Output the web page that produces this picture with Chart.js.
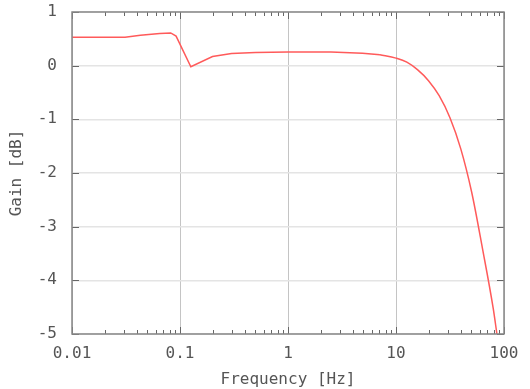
<!DOCTYPE html>
<html>
<head>
<meta charset="utf-8">
<script src="https://cdn.jsdelivr.net/npm/chart.js@4/dist/chart.umd.min.js"></script>
<style>
  html, body { margin: 0; padding: 0; background: #ffffff; }
  #wrap { width: 530px; height: 389px; }
</style>
</head>
<body>
<div id="wrap"><canvas id="c" width="530" height="389"></canvas></div>
<script>
// Data
const frequencyHz = [0.01, 0.031, 0.043, 0.065, 0.082, 0.092, 0.126, 0.2, 0.3, 0.5, 1, 2.5, 4.9, 7.1, 10, 12.6, 15.8, 20, 25.1, 31.6, 39.8, 50.1, 63.1, 79.4, 86];
const gainDb      = [0.53, 0.53, 0.565, 0.6, 0.61, 0.55, -0.02, 0.17, 0.225, 0.245, 0.255, 0.255, 0.23, 0.205, 0.14, 0.065, -0.075, -0.28, -0.56, -0.97, -1.55, -2.35, -3.4, -4.52, -5.0];
const decadeTicks = [0.01, 0.1, 1, 10, 100];
const decadeLabels = ['0.01', '0.1', '1', '10', '100'];
const gainTicks = [-5, -4, -3, -2, -1, 0, 1];
const rollOffStartHz = 7.1; // the roll-off part is drawn smoothed

const FONT = "'DejaVu Sans Mono', 'Liberation Mono', monospace";
const TEXT = '#555555';
const LINE = '#ff5a5a';

const logTicks = [];
decadeTicks.forEach((d, i) => {
  if (i === decadeTicks.length - 1) { logTicks.push(d); return; }
  for (let k = 1; k <= 9; k++) logTicks.push(+(k * d).toPrecision(3));
});

const points = frequencyHz.map((f, i) => ({ x: f, y: gainDb[i] }));
const flatPart = points.filter(p => p.x <= rollOffStartHz);
const rollOffPart = points.filter(p => p.x >= rollOffStartHz);

const framePlugin = {
  id: 'frame',
  afterDraw(chart) {
    const { ctx, chartArea: a, scales } = chart;
    const xs = scales.x, ys = scales.y;
    ctx.save();
    ctx.strokeStyle = '#666666';
    ctx.lineWidth = 1;
    logTicks.forEach(v => {
      const px = Math.round(xs.getPixelForValue(v)) + 0.5;
      const major = decadeTicks.includes(v);
      const len = major ? 7 : 4;
      ctx.beginPath();
      ctx.moveTo(px, a.bottom); ctx.lineTo(px, a.bottom - len);
      ctx.moveTo(px, a.top); ctx.lineTo(px, a.top + len);
      ctx.stroke();
    });
    gainTicks.forEach(v => {
      const py = Math.round(ys.getPixelForValue(v)) + 0.5;
      ctx.beginPath();
      ctx.moveTo(a.left, py); ctx.lineTo(a.left + 7, py);
      ctx.moveTo(a.right, py); ctx.lineTo(a.right - 7, py);
      ctx.stroke();
    });
    ctx.strokeStyle = '#888888';
    ctx.lineWidth = 1.5;
    ctx.strokeRect(a.left, a.top, a.right - a.left, a.bottom - a.top);
    ctx.restore();
  }
};

new Chart(document.getElementById('c'), {
  type: 'line',
  data: {
    datasets: [{
      data: flatPart,
      borderColor: LINE,
      borderWidth: 1.5,
      pointRadius: 0,
      fill: false,
      tension: 0
    }, {
      data: rollOffPart,
      borderColor: LINE,
      borderWidth: 1.5,
      pointRadius: 0,
      fill: false,
      cubicInterpolationMode: 'monotone'
    }]
  },
  options: {
    responsive: false,
    animation: false,
    devicePixelRatio: 1,
    layout: { padding: { top: 12, right: 26, left: 0, bottom: 0 } },
    plugins: { legend: { display: false }, tooltip: { enabled: false } },
    scales: {
      x: {
        type: 'logarithmic',
        min: 0.01,
        max: 100,
        afterBuildTicks(scale) { scale.ticks = logTicks.map(v => ({ value: v })); },
        afterFit(scale) { scale.height = 55; scale.paddingLeft = 0; scale.paddingRight = 0; },
        border: { display: false },
        grid: {
          drawTicks: false,
          tickLength: 0,
          color: ctx => decadeTicks.includes(ctx.tick && ctx.tick.value) ? '#c4c4c4' : 'rgba(0,0,0,0)',
          lineWidth: 1
        },
        ticks: {
          autoSkip: false,
          maxRotation: 0,
          padding: 10,
          color: TEXT,
          font: { family: FONT, size: 16 },
          callback(value) {
            const i = decadeTicks.indexOf(+value);
            return i >= 0 ? decadeLabels[i] : '';
          }
        },
        title: {
          display: true,
          text: 'Frequency [Hz]',
          color: TEXT,
          font: { family: FONT, size: 16 },
          padding: { top: 0, bottom: 0 }
        }
      },
      y: {
        min: -5,
        max: 1,
        afterBuildTicks(scale) { scale.ticks = gainTicks.map(v => ({ value: v })); },
        afterFit(scale) { scale.width = 72; scale.paddingTop = 0; scale.paddingBottom = 0; },
        border: { display: false },
        grid: {
          drawTicks: false,
          tickLength: 0,
          color: '#e4e4e4',
          lineWidth: 1.5
        },
        ticks: {
          padding: 15,
          color: TEXT,
          font: { family: FONT, size: 16 },
          callback: v => String(v)
        },
        title: {
          display: true,
          text: 'Gain [dB]',
          color: TEXT,
          font: { family: FONT, size: 16 },
          padding: { top: 7, bottom: 0 }
        }
      }
    }
  },
  plugins: [framePlugin]
});
</script>
</body>
</html>
